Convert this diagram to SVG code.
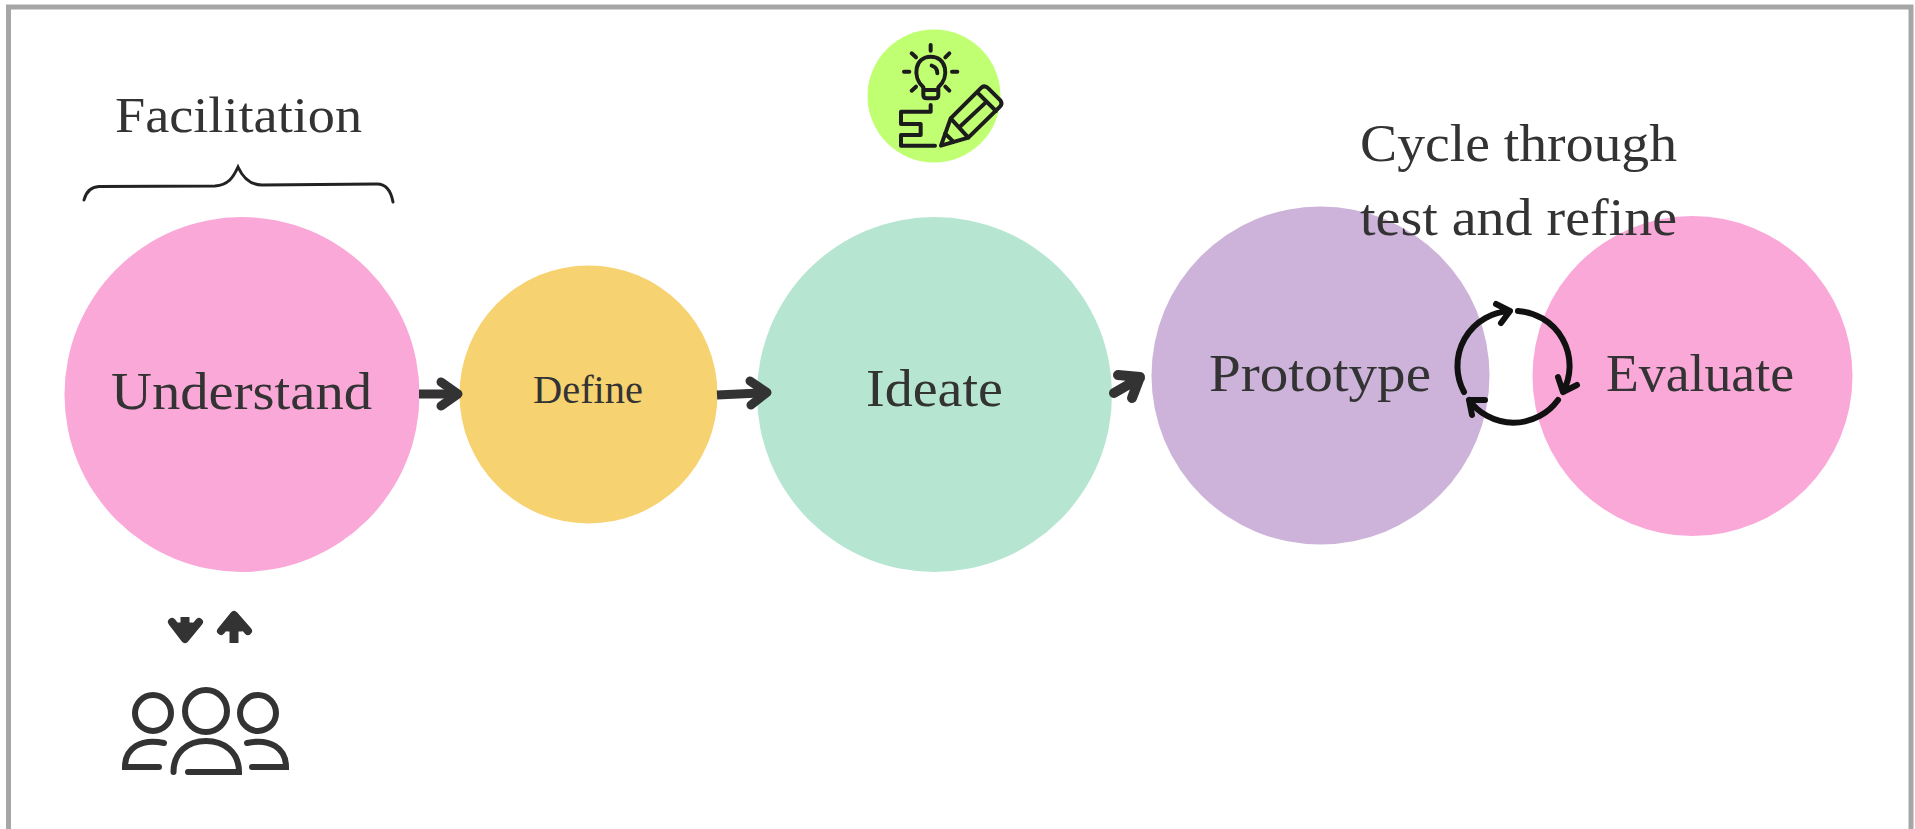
<svg xmlns="http://www.w3.org/2000/svg" width="1915" height="829" viewBox="0 0 1915 829">
<style>
.t{font-family:"Liberation Serif",serif;fill:#333;}
.a{fill:none;stroke:#333;stroke-width:9;stroke-linejoin:round;stroke-linecap:round;}
.s{fill:none;stroke:#333;stroke-width:9;}
.h{fill:#333;stroke:#333;stroke-width:7;stroke-linejoin:round;}
.p{fill:none;stroke:#333;stroke-width:6;stroke-linecap:round;}
.c{fill:none;stroke:#111;stroke-width:6;stroke-linecap:round;stroke-linejoin:round;}
.i{fill:none;stroke:#1c1c1c;stroke-width:12;stroke-linecap:round;stroke-linejoin:round;}
</style>
<rect width="1915" height="829" fill="#fff"/>
<rect x="8.5" y="7" width="1902.5" height="830" fill="none" stroke="#a6a6a6" stroke-width="5"/>
<g id="node-understand"><circle cx="242" cy="394.5" r="177.5" fill="#f9a8d8"/><text class="t" x="111" y="409" font-size="52" textLength="261" lengthAdjust="spacingAndGlyphs">Understand</text></g>
<g id="node-define"><circle cx="588.5" cy="394.5" r="129" fill="#f7d271"/><text class="t" x="533" y="403" font-size="39" textLength="110" lengthAdjust="spacingAndGlyphs">Define</text></g>
<g id="node-ideate"><circle cx="934.5" cy="394.5" r="177.5" fill="#b6e6d1"/><text class="t" x="866" y="406" font-size="52" textLength="137" lengthAdjust="spacingAndGlyphs">Ideate</text></g>
<g id="node-prototype"><circle cx="1320.5" cy="375.5" r="169" fill="#cdb3da"/><text class="t" x="1209" y="391" font-size="52" textLength="222" lengthAdjust="spacingAndGlyphs">Prototype</text></g>
<g id="node-evaluate"><circle cx="1692.5" cy="376" r="160" fill="#f9a8d8"/><text class="t" x="1606" y="391" font-size="52" textLength="188" lengthAdjust="spacingAndGlyphs">Evaluate</text></g>
<g id="label-facilitation"><text class="t" x="115" y="132" font-size="50" textLength="247" lengthAdjust="spacingAndGlyphs">Facilitation</text></g>
<g id="label-cycle"><text class="t" x="1360" y="161" font-size="52" textLength="317" lengthAdjust="spacingAndGlyphs">Cycle through</text><text class="t" x="1360" y="235" font-size="52" textLength="317" lengthAdjust="spacingAndGlyphs">test and refine</text></g>
<g id="brace"><path d="M84 200C86 192 90 187 99 186.500L215 186C228 185 233 178 238 167C243 178 250 185 262 185L377 184C386 184 391 191 393 202" fill="none" stroke="#222" stroke-width="3" stroke-linecap="round"/></g>
<g id="node-idea"><circle cx="934" cy="96" r="66.5" fill="#c1ff72"/>
<g transform="translate(840 10) scale(.3333)" class="i">
<path d="M250 232C215 200 225 140 272 140C320 140 330 200 295 232L295 255Q295 265 285 265L260 265Q250 265 250 255ZM250 240L295 240M275 167Q292 172 292 190"/>
<path d="M192 185L208 185M336 185L352 185M272 105L272 122M215 130L228 142M328 130L316 142M215 242L228 230M328 242L316 230"/>
<path d="M272 285L272 305L183 305L183 342L242 342L242 375L183 375L183 407L285 407"/>
<path d="M303 407L332 325L425 232Q435 225 445 235L482 272Q488 282 480 290L385 383ZM332 325L385 383M412 247L468 303M358 352L440 275M315 370L340 395"/>
</g></g>
<g id="node-people" class="p">
<circle cx="206" cy="711" r="21"/><circle cx="258" cy="713" r="18"/><circle cx="153" cy="713" r="18"/>
<path d="M173.500 772C173.500 752 188 741 206 741C224 741 239 752 239 772L188 772"/>
<path d="M247 743C270 738 286 748 286 767L252 767"/>
<path d="M164 743C141 738 125 748 125 767L159 767"/>
</g>
<g id="connectors">
<path class="s" d="M419 394L452 394"/><path class="a" d="M441 382L458 394L441 406"/>
<path class="s" d="M717 395L760 393"/><path class="a" d="M750 381L767 392.500L751 405"/>
<path class="a" d="M1114 393L1140 378M1118 375L1140 377L1132 398" style="stroke-width:10"/>
<path class="s" d="M185 617L185 632"/><path class="a" d="M172 622L185 639L199 622" style="stroke-width:8"/>
<path class="s" d="M234 643L234 622"/><path class="a" d="M221 631L234 615L248 631" style="stroke-width:8"/>
<path class="h" d="M185 638L178 626L192 626Z"/>
<path class="h" d="M234 616L227 628L241 628Z"/>
<g class="c">
<path d="M1464 392A55 55 0 0 1 1510 311M1496 304L1510 311L1501 323"/>
<path d="M1518 311A55 55 0 0 1 1563 392M1558 377L1563 392L1577 385"/>
<path d="M1558 400A55 55 0 0 1 1469 400M1485 400L1469 400L1472 415"/>
</g>
</g>
</svg>
